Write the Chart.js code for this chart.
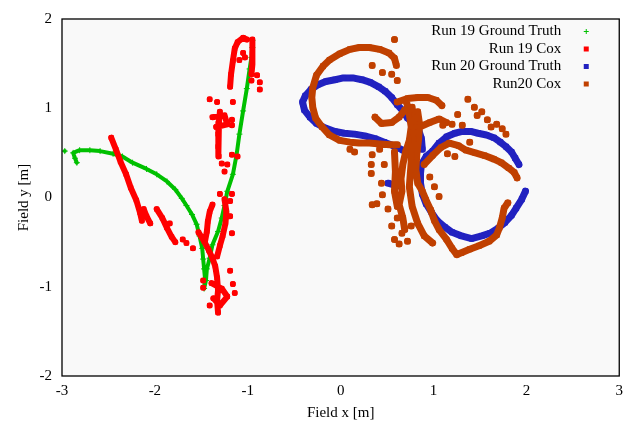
<!DOCTYPE html>
<html>
<head>
<meta charset="utf-8">
<title>Field trajectories</title>
<script src="https://cdn.jsdelivr.net/npm/chart.js@4.4.1/dist/chart.umd.min.js"></script>
<style>
    body { margin: 0; background: #ffffff; }
</style>
</head>
<body>
<canvas id="chart-field" width="629" height="429"></canvas>
<script>
// Series names and colours
const seriesNames = ['Run 19 Ground Truth', 'Run 19 Cox', 'Run 20 Ground Truth', 'Run20 Cox']
const color_truth19 = '#00c000'
const color_cox19 = '#ff0000'
const color_truth20 = '#2222c0'
const color_cox20 = '#c04000'

// Axis ticks (metres)
const xTicks = [-3, -2, -1, 0, 1, 2, 3]
const yTicks = [-2, -1, 0, 1, 2]

// Run 19 ground truth: [x, y] in metres
const truth19Tracks = [
    [[-2.84, 0.39], [-2.86, 0.44], [-2.88, 0.50], [-2.81, 0.53], [-2.70, 0.53], [-2.59, 0.52],
     [-2.45, 0.49], [-2.35, 0.46], [-2.24, 0.39], [-2.09, 0.32], [-1.98, 0.26], [-1.87, 0.18],
     [-1.78, 0.09], [-1.71, -0.01], [-1.66, -0.09], [-1.60, -0.19], [-1.55, -0.30], [-1.52, -0.43],
     [-1.49, -0.57], [-1.48, -0.69], [-1.47, -0.80], [-1.46, -0.91], [-1.47, -1.02], [-1.45, -0.93],
     [-1.44, -0.80], [-1.41, -0.68], [-1.38, -0.53], [-1.32, -0.38], [-1.28, -0.23], [-1.25, -0.09],
     [-1.22, 0.07], [-1.16, 0.26], [-1.12, 0.48], [-1.09, 0.71], [-1.05, 0.97], [-1.01, 1.22],
     [-0.98, 1.44], [-0.96, 1.57], [-0.95, 1.68], [-0.95, 1.76]],
]
const truth19Stray = [[-2.97, 0.52]]

// Run 19 Cox estimate
const cox19Tracks = [
    [[-2.47, 0.67], [-2.42, 0.54], [-2.37, 0.40], [-2.31, 0.26], [-2.26, 0.11], [-2.20, -0.03], [-2.16, -0.17], [-2.14, -0.26]],
    [[-2.12, -0.13], [-2.09, -0.21], [-2.05, -0.29]],
    [[-1.98, -0.13], [-1.92, -0.23], [-1.87, -0.34], [-1.82, -0.44], [-1.78, -0.50]],
    [[-1.53, -0.39], [-1.47, -0.49], [-1.42, -0.59], [-1.38, -0.68], [-1.35, -0.77], [-1.33, -0.90], [-1.32, -1.04], [-1.33, -1.16], [-1.32, -1.29]],
    [[-1.38, -0.08], [-1.41, -0.16], [-1.43, -0.27], [-1.44, -0.38], [-1.46, -0.49]],
    [[-1.25, -0.02], [-1.23, -0.16], [-1.24, -0.29], [-1.27, -0.43], [-1.30, -0.54], [-1.33, -0.66]],
    [[-1.39, -0.96], [-1.28, -1.02], [-1.22, -1.11], [-1.30, -1.21], [-1.37, -1.13]],
    [[-1.30, 0.96], [-1.31, 0.84], [-1.32, 0.71], [-1.32, 0.57], [-1.31, 0.46]],
    [[-1.38, 0.90], [-1.25, 0.92], [-1.22, 0.82], [-1.34, 0.79]],
    [[-1.19, 1.24], [-1.18, 1.38], [-1.16, 1.53], [-1.14, 1.67], [-1.11, 1.74], [-1.05, 1.79], [-1.01, 1.77]],
    [[-0.95, 1.77], [-0.95, 1.62], [-0.95, 1.49], [-0.96, 1.38]],
]
const cox19Stray = [
    [-1.70, -0.47], [-1.66, -0.51], [-1.59, -0.57], [-1.84, -0.29], [-1.19, -0.04], [-1.30, 0.04],
    [-1.17, 0.04], [-1.25, 0.29], [-1.19, -0.21], [-1.17, -0.40], [-1.19, -0.82], [-1.16, -0.97],
    [-1.48, -1.01], [-1.48, -0.93], [-1.14, -1.07], [-1.41, -1.21], [-1.41, 1.10], [-1.33, 1.07],
    [-1.16, 1.07], [-1.17, 0.87], [-1.17, 0.81], [-1.28, 0.38], [-1.22, 0.37], [-1.17, 0.48],
    [-1.11, 0.46], [-1.09, 1.54], [-1.03, 1.57], [-1.05, 1.62], [-0.96, 1.31], [-0.90, 1.37],
    [-0.87, 1.29], [-0.87, 1.21],
]

// Run 20 ground truth
const truth20Tracks = [
    [[1.99, 0.07], [1.95, -0.02], [1.89, -0.12], [1.84, -0.20], [1.77, -0.28], [1.70, -0.34],
     [1.61, -0.40], [1.52, -0.43], [1.41, -0.46], [1.30, -0.43], [1.20, -0.39], [1.12, -0.33],
     [1.04, -0.26], [0.98, -0.17], [0.92, -0.07], [0.88, 0.04], [0.86, 0.16], [0.86, 0.27], [0.87, 0.37],
     [0.92, 0.46], [0.99, 0.52], [1.06, 0.61], [1.14, 0.68], [1.23, 0.72], [1.31, 0.74], [1.40, 0.74],
     [1.48, 0.72], [1.57, 0.70], [1.65, 0.67], [1.72, 0.62], [1.78, 0.57], [1.84, 0.51], [1.88, 0.44], [1.92, 0.37]],
    [[0.76, 0.49], [0.67, 0.53], [0.57, 0.58], [0.47, 0.62], [0.37, 0.66], [0.26, 0.69], [0.15, 0.71],
     [0.04, 0.72], [-0.06, 0.74], [-0.17, 0.78], [-0.26, 0.83], [-0.33, 0.90], [-0.39, 0.98], [-0.41, 1.07],
     [-0.38, 1.14], [-0.32, 1.21], [-0.25, 1.26], [-0.16, 1.30], [-0.06, 1.32], [0.03, 1.34], [0.13, 1.34],
     [0.23, 1.32], [0.32, 1.29], [0.41, 1.24], [0.48, 1.19], [0.55, 1.12], [0.61, 1.04], [0.67, 0.97],
     [0.72, 0.89], [0.78, 0.83], [0.84, 0.76], [0.87, 0.66], [0.88, 0.54]],
    [[0.51, 0.16], [0.61, 0.13]],
]
const truth20Stray = []

// Run 20 Cox estimate
const cox20Tracks = [
    [[0.60, 1.48], [0.58, 1.56], [0.52, 1.62], [0.42, 1.66], [0.31, 1.68], [0.20, 1.68], [0.10, 1.66],
     [-0.01, 1.61], [-0.12, 1.54], [-0.19, 1.47], [-0.26, 1.37], [-0.30, 1.23], [-0.31, 1.12], [-0.30, 1.01],
     [-0.27, 0.89], [-0.20, 0.79], [-0.12, 0.70], [-0.01, 0.64], [0.10, 0.62], [0.20, 0.61], [0.31, 0.61],
     [0.42, 0.60], [0.53, 0.59], [0.61, 0.59]],
    [[0.37, 0.90], [0.44, 0.83], [0.55, 0.84], [0.63, 0.90], [0.69, 0.98]],
    [[0.61, 1.07], [0.72, 1.11], [0.83, 1.12], [0.94, 1.12], [1.03, 1.09], [1.09, 1.03]],
    [[0.71, 1.07], [0.74, 0.93], [0.76, 0.79], [0.74, 0.64], [0.70, 0.51], [0.67, 0.37], [0.65, 0.21],
     [0.66, 0.07], [0.63, -0.08], [0.67, -0.23], [0.69, -0.36]],
    [[0.77, 1.01], [0.78, 0.73], [0.76, 0.40], [0.74, 0.12], [0.77, -0.10], [0.83, -0.29], [0.90, -0.43], [0.99, -0.51]],
    [[0.58, 0.51], [0.59, 0.29], [0.58, 0.07], [0.61, -0.10]],
    [[0.83, 0.96], [0.85, 0.82], [0.84, 0.66], [0.82, 0.48], [0.81, 0.31], [0.83, 0.16], [0.88, 0.07],
     [0.92, -0.03], [0.97, -0.14], [1.01, -0.26], [1.06, -0.36], [1.14, -0.47], [1.20, -0.57], [1.25, -0.64],
     [1.30, -0.62], [1.39, -0.58], [1.49, -0.54], [1.60, -0.49], [1.68, -0.42], [1.71, -0.34], [1.74, -0.23],
     [1.76, -0.12], [1.80, -0.06]],
    [[0.90, 0.37], [0.99, 0.47], [1.08, 0.56], [1.17, 0.61], [1.27, 0.58], [1.35, 0.53], [1.45, 0.50],
     [1.55, 0.47], [1.65, 0.43], [1.73, 0.39], [1.81, 0.33], [1.87, 0.28], [1.90, 0.22]],
    [[0.85, 0.79], [0.96, 0.84], [1.06, 0.88], [1.14, 0.84]],
]
const cox20Stray = [
    [0.58, 1.77], [0.34, 1.48], [0.45, 1.40], [0.55, 1.38], [0.61, 1.31], [0.10, 0.54], [0.15, 0.51],
    [0.34, 0.48], [0.33, 0.37], [0.33, 0.27], [0.47, 0.37], [0.42, 0.54], [0.44, 0.16], [0.45, 0.03],
    [0.39, -0.07], [0.34, -0.08], [0.51, -0.13], [0.61, -0.23], [0.66, -0.40], [0.58, -0.47],
    [0.63, -0.52], [0.72, -0.49], [0.55, -0.32], [0.76, -0.32], [1.10, 0.81], [1.20, 0.82],
    [1.31, 0.81], [1.44, 1.01], [1.47, 0.92], [1.52, 0.96], [1.37, 1.10], [1.68, 0.82], [1.74, 0.77],
    [1.78, 0.71], [1.26, 0.93], [1.58, 0.87], [1.62, 0.79], [1.39, 0.62], [1.15, 0.49], [1.23, 0.46],
    [0.96, 0.23], [1.01, 0.12], [1.06, 0.01],
]

// Flatten tracks into one series, NaN rows break the connecting line
function build_data(tracks, strays) {
    const out = []
    tracks.forEach(function (track) {
        track.forEach(function (p) { out.push({x: p[0], y: p[1]}) })
        out.push({x: NaN, y: NaN})
    })
    strays.forEach(function (p) {
        out.push({x: p[0], y: p[1]})
        out.push({x: NaN, y: NaN})
    })
    return out
}

function make_dataset(i, tracks, strays, color, style, radius, width, order) {
    return {
        label: seriesNames[i],
        data: build_data(tracks, strays),
        showLine: true,
        spanGaps: false,
        borderColor: color,
        backgroundColor: color,
        borderWidth: width,
        borderJoinStyle: 'round',
        borderCapStyle: 'round',
        pointStyle: style,
        pointRadius: radius,
        pointBorderWidth: 1,
        pointBackgroundColor: color,
        pointBorderColor: color,
        order: order,
    }
}

const data = {
    datasets: [
        make_dataset(0, truth19Tracks, truth19Stray, color_truth19, 'cross', 3, 4, 4),
        make_dataset(1, cox19Tracks, cox19Stray, color_cox19, 'rect', 3, 6, 3),
        make_dataset(2, truth20Tracks, truth20Stray, color_truth20, 'rect', 3.5, 7, 2),
        make_dataset(3, cox20Tracks, cox20Stray, color_cox20, 'rect', 3.5, 7, 1),
    ]
}

const serif = '"Liberation Serif", "Times New Roman", serif'

// Light grey plot background and frame
const plotBackground = {
    id: 'plotBackground',
    beforeDraw(chart) {
        const a = chart.chartArea
        const ctx = chart.ctx
        ctx.save()
        ctx.fillStyle = '#f9f9f9'
        ctx.fillRect(a.left, a.top, a.right - a.left, a.bottom - a.top)
        ctx.restore()
    },
    afterDatasetsDraw(chart) {
        const a = chart.chartArea
        const ctx = chart.ctx
        ctx.save()
        ctx.strokeStyle = '#000000'
        ctx.lineWidth = 1.3
        ctx.strokeRect(a.left, a.top, a.right - a.left, a.bottom - a.top)
        ctx.restore()
    }
}

// Gnuplot style key: right aligned text, sample mark to the right
const gnuKey = {
    id: 'gnuKey',
    afterDraw(chart) {
        const a = chart.chartArea
        const ctx = chart.ctx
        ctx.save()
        ctx.font = '15px ' + serif
        ctx.textAlign = 'right'
        ctx.textBaseline = 'middle'
        chart.data.datasets.forEach(function (ds, i) {
            const y = a.top + 12.5 + i * 17.5
            const mx = a.right - 33
            ctx.fillStyle = '#000000'
            ctx.fillText(ds.label, a.right - 58, y)
            ctx.fillStyle = ds.borderColor
            ctx.strokeStyle = ds.borderColor
            if (ds.pointStyle === 'cross') {
                ctx.lineWidth = 1
                ctx.beginPath()
                ctx.moveTo(mx - 2.5, y); ctx.lineTo(mx + 2.5, y)
                ctx.moveTo(mx, y - 2.5); ctx.lineTo(mx, y + 2.5)
                ctx.stroke()
            } else {
                ctx.fillRect(mx - 2.5, y - 2.5, 5, 5)
            }
        })
        ctx.restore()
    }
}

const config = {
    type: 'scatter',
    data: data,
    plugins: [plotBackground, gnuKey],
    options: {
        responsive: false,
        animation: false,
        devicePixelRatio: 1,
        layout: {
            padding: {top: 16, right: 9, left: 0, bottom: 0},
        },
        plugins: {
            legend: {display: false},
            tooltip: {enabled: false},
        },
        scales: {
            x: {
                type: 'linear',
                min: -3,
                max: 3,
                afterBuildTicks: function (scale) {
                    scale.ticks = xTicks.map(function (v) { return {value: v} })
                },
                afterFit: function (scale) { scale.height = 53 },
                grid: {display: false, drawTicks: false},
                border: {display: false},
                ticks: {
                    color: '#000000',
                    padding: 6,
                    font: {family: serif, size: 15},
                },
                title: {
                    display: true,
                    text: 'Field x [m]',
                    color: '#000000',
                    padding: {top: 0, bottom: 7},
                    font: {family: serif, size: 15},
                },
            },
            y: {
                type: 'linear',
                min: -2,
                max: 2,
                afterBuildTicks: function (scale) {
                    scale.ticks = yTicks.map(function (v) { return {value: v} })
                },
                afterFit: function (scale) { scale.width = 62 },
                grid: {display: false, drawTicks: false},
                border: {display: false},
                ticks: {
                    color: '#000000',
                    padding: 10,
                    font: {family: serif, size: 15},
                },
                title: {
                    display: true,
                    text: 'Field y [m]',
                    color: '#000000',
                    padding: {top: 15, bottom: 0},
                    font: {family: serif, size: 15},
                },
            },
        },
    }
}

const context = document.getElementById('chart-field').getContext('2d')
const chart = new Chart(context, config)
</script>
</body>
</html>
